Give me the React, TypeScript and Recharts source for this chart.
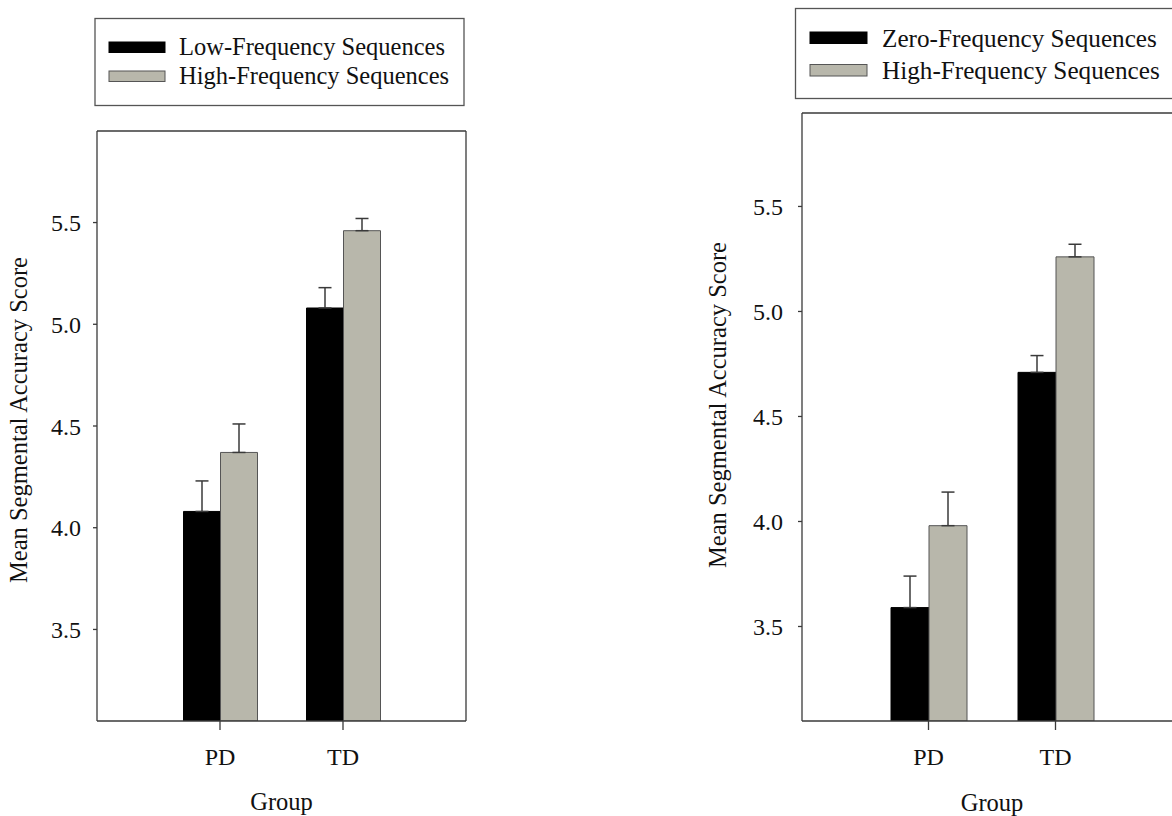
import { BarChart, Bar, XAxis, YAxis, ErrorBar, Label } from "recharts";

const groups = ["PD", "TD"];
const yTicks = [3.5, 4.0, 4.5, 5.0, 5.5];

// left panel
const leftNames = ["Low-Frequency Sequences", "High-Frequency Sequences"];
const leftLowMeans = [4.08, 5.08];
const leftLowErr = [0.15, 0.1];
const leftHighMeans = [4.37, 5.46];
const leftHighErr = [0.14, 0.06];

// right panel
const rightNames = ["Zero-Frequency Sequences", "High-Frequency Sequences"];
const rightZeroMeans = [3.59, 4.71];
const rightZeroErr = [0.15, 0.08];
const rightHighMeans = [3.98, 5.26];
const rightHighErr = [0.16, 0.06];

const FONT = "'Liberation Serif', 'Times New Roman', serif";
const BLACK = "#000000";
const GREY = "#b8b7ab";
const LINE = "#3a3a3a";

function buildData(aMeans: number[], aErr: number[], bMeans: number[], bErr: number[]) {
  return groups.map((g, i) => ({
    group: g,
    a: aMeans[i],
    aErr: [0, aErr[i]],
    b: bMeans[i],
    bErr: [0, bErr[i]],
  }));
}

interface PanelProps {
  data: any[];
  names: string[];
  width: number;
  top: number;
  right: number;
  yWidth: number;
  pad: number;
  barSize: number;
  domain: [number, number];
  tickMargin: number;
  labelX: number;
  labelShift: number;
  groupDy: number;
}

function Panel(p: PanelProps) {
  const yLabel = (props: any) => {
    const vb = props.viewBox || { y: p.top, height: 721 - p.top };
    const cy = vb.y + vb.height / 2 + p.labelShift;
    return (
      <text
        x={p.labelX}
        y={cy}
        transform={`rotate(-90 ${p.labelX} ${cy})`}
        textAnchor="middle"
        fontFamily={FONT}
        fontSize={24.5}
        fill="#111"
      >
        Mean Segmental Accuracy Score
      </text>
    );
  };
  const xLabel = (props: any) => {
    const vb = props.viewBox || { x: p.yWidth, width: p.width - p.yWidth - p.right, y: 721 };
    return (
      <text
        x={vb.x + vb.width / 2}
        y={vb.y + p.groupDy}
        textAnchor="middle"
        fontFamily={FONT}
        fontSize={24.5}
        fill="#111"
      >
        Group
      </text>
    );
  };
  const tickStyle = { fontFamily: FONT, fontSize: 24, fill: "#111" };
  return (
    <BarChart
      width={p.width}
      height={816}
      data={p.data}
      margin={{ top: p.top - 1, right: p.right - 1, bottom: 0, left: 0 }}
      barGap={0}
      barSize={p.barSize}
    >
      <XAxis
        dataKey="group"
        padding={{ left: p.pad, right: p.pad }}
        height={95}
        tickSize={9}
        tickMargin={17.5}
        tick={tickStyle}
        axisLine={{ stroke: LINE, strokeWidth: 1.3 }}
        tickLine={{ stroke: LINE, strokeWidth: 1.3 }}
      >
        <Label content={xLabel} />
      </XAxis>
      {/* top frame line */}
      <XAxis
        xAxisId="top"
        orientation="top"
        dataKey="group"
        padding={{ left: p.pad, right: p.pad }}
        height={1}
        tick={false}
        tickLine={false}
        axisLine={{ stroke: LINE, strokeWidth: 1.3 }}
      />
      <YAxis
        width={p.yWidth}
        domain={p.domain}
        allowDataOverflow
        ticks={yTicks}
        tickFormatter={(v: number) => v.toFixed(1)}
        tickSize={4}
        tickMargin={p.tickMargin}
        tick={tickStyle}
        axisLine={{ stroke: LINE, strokeWidth: 1.3 }}
        tickLine={{ stroke: LINE, strokeWidth: 1.3 }}
      >
        <Label content={yLabel} />
      </YAxis>
      {/* right frame line */}
      <YAxis
        yAxisId="r"
        orientation="right"
        width={1}
        domain={p.domain}
        allowDataOverflow
        tick={false}
        tickLine={false}
        axisLine={{ stroke: LINE, strokeWidth: 1.3 }}
      />
      <Bar dataKey="a" name={p.names[0]} fill={BLACK} stroke={BLACK} isAnimationActive={false}>
        <ErrorBar dataKey="aErr" width={6.5} stroke={LINE} strokeWidth={1.5} isAnimationActive={false} />
      </Bar>
      <Bar dataKey="b" name={p.names[1]} fill={GREY} stroke="#555" isAnimationActive={false}>
        <ErrorBar dataKey="bErr" width={6.5} stroke={LINE} strokeWidth={1.5} isAnimationActive={false} />
      </Bar>
    </BarChart>
  );
}

interface LegendBoxProps {
  names: string[];
  box: [number, number, number, number];
  swX: number;
  swW: number;
  swY: [number, number];
  swH: number;
  textX: number;
  baselines: [number, number];
  fontSize: number;
}

function LegendBox(l: LegendBoxProps) {
  const fills = [BLACK, GREY];
  const strokes = [BLACK, "#555"];
  return (
    <g>
      <rect x={l.box[0]} y={l.box[1]} width={l.box[2]} height={l.box[3]} fill="#fff" stroke="#555" strokeWidth={1.3} />
      {l.names.map((n, i) => (
        <g key={n}>
          <rect x={l.swX} y={l.swY[i]} width={l.swW} height={l.swH} fill={fills[i]} stroke={strokes[i]} strokeWidth={1} />
          <text x={l.textX} y={l.baselines[i]} fontFamily={FONT} fontSize={l.fontSize} fill="#111">
            {n}
          </text>
        </g>
      ))}
    </g>
  );
}

export default function App() {
  const leftData = buildData(leftLowMeans, leftLowErr, leftHighMeans, leftHighErr);
  const rightData = buildData(rightZeroMeans, rightZeroErr, rightHighMeans, rightHighErr);
  return (
    <div
      style={{
        position: "absolute",
        left: 0,
        top: 0,
        width: 1172,
        height: 816,
        overflow: "hidden",
        background: "#fff",
      }}
    >
      <div style={{ position: "absolute", left: 0, top: 0 }}>
        <Panel
          data={leftData}
          names={leftNames}
          width={480}
          top={131}
          right={14}
          yWidth={97}
          pad={61.5}
          barSize={37}
          domain={[3.05, 5.95]}
          tickMargin={12}
          labelX={26.5}
          labelShift={-6}
          groupDy={89}
        />
      </div>
      <div style={{ position: "absolute", left: 700, top: 0 }}>
        <Panel
          data={rightData}
          names={rightNames}
          width={500}
          top={113}
          right={18}
          yWidth={102}
          pad={63}
          barSize={38}
          domain={[3.05, 5.945]}
          tickMargin={15}
          labelX={26}
          labelShift={-12}
          groupDy={90}
        />
      </div>
      <svg width={1172} height={816} style={{ position: "absolute", left: 0, top: 0, pointerEvents: "none" }}>
        <LegendBox
          names={leftNames}
          box={[95, 18.5, 369, 87]}
          swX={109}
          swW={56}
          swY={[42, 71]}
          swH={10.5}
          textX={179}
          baselines={[55, 84]}
          fontSize={24.5}
        />
        <LegendBox
          names={rightNames}
          box={[795.5, 8.5, 400, 90]}
          swX={810}
          swW={57}
          swY={[32, 64.5]}
          swH={11.5}
          textX={882}
          baselines={[47, 78.5]}
          fontSize={25.2}
        />
      </svg>
    </div>
  );
}
